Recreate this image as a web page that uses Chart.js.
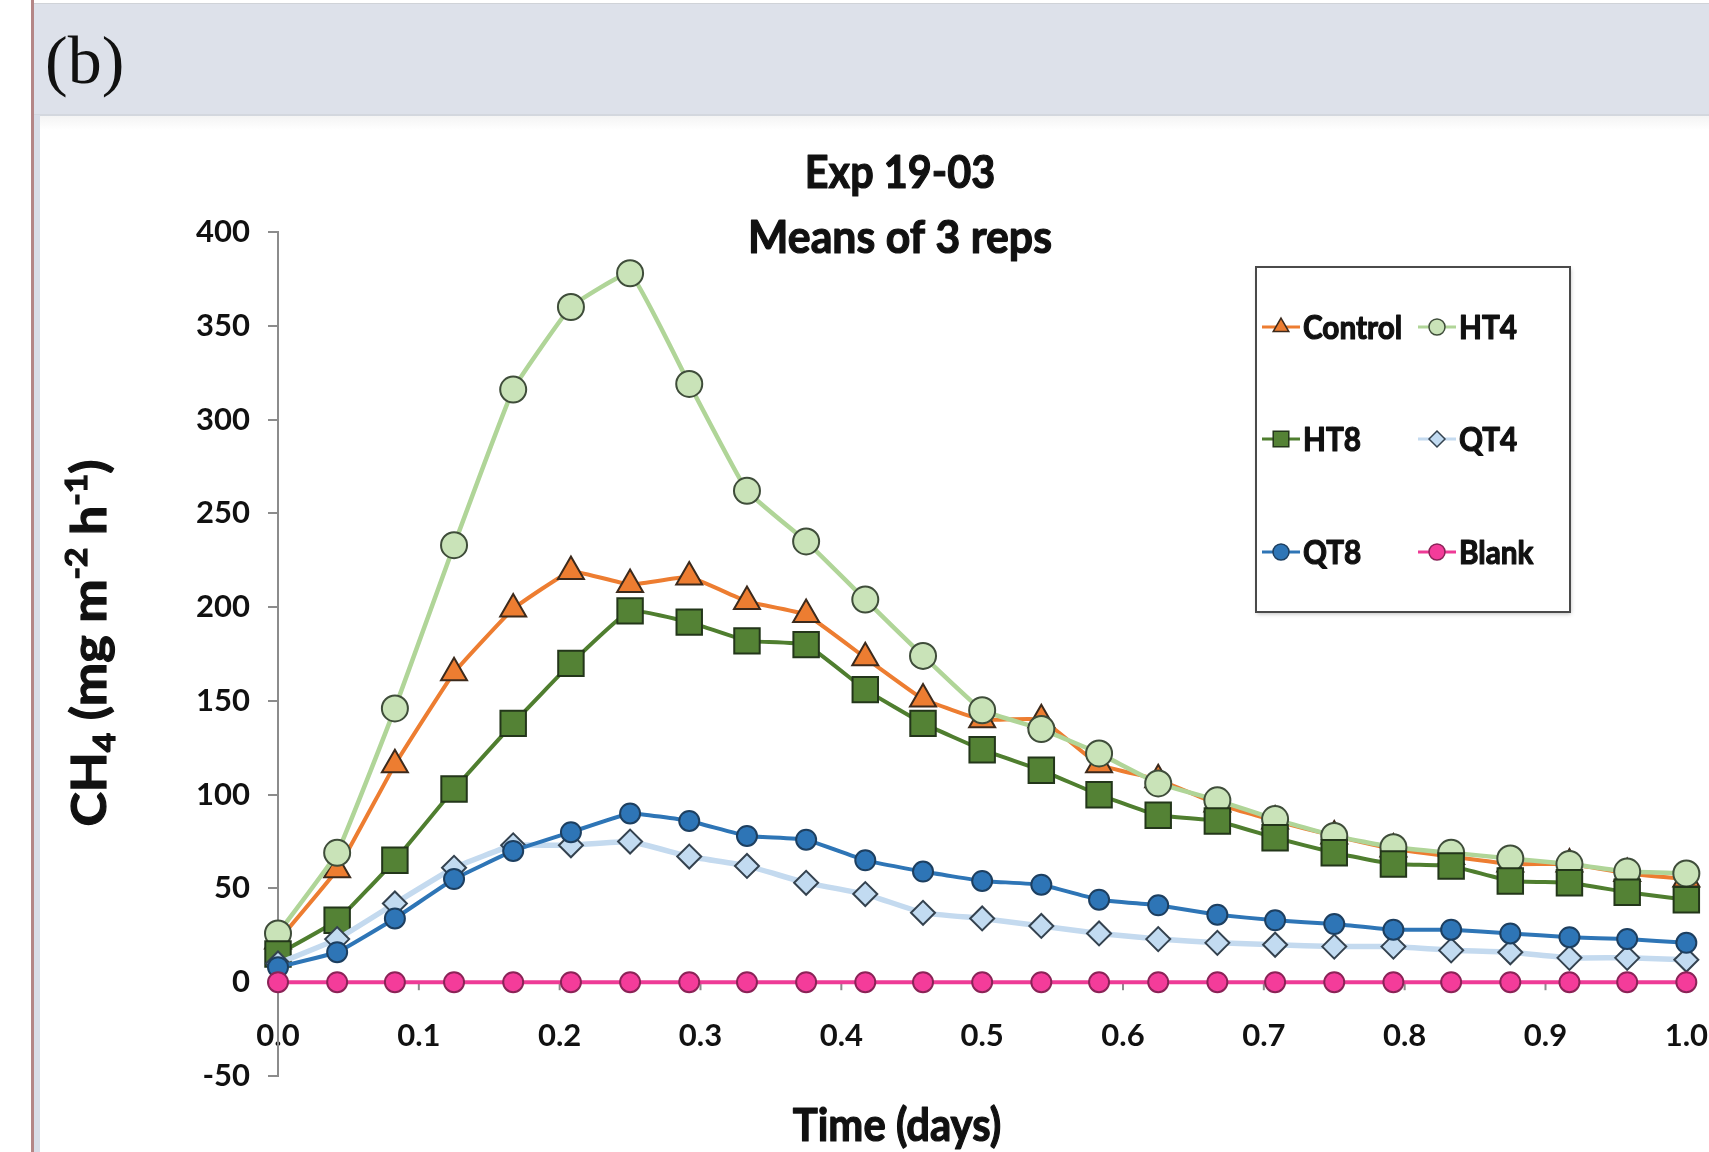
<!DOCTYPE html>
<html>
<head>
<meta charset="utf-8">
<title>Exp 19-03 - Means of 3 reps</title>
<script src="https://cdn.jsdelivr.net/npm/chart.js@4.4.1/dist/chart.umd.min.js"></script>
<style>
    html, body { margin: 0; padding: 0; background: #ffffff; overflow: hidden; }
    #page { position: relative; width: 1709px; height: 1152px; }
    #leftRule { position: absolute; left: 31px; top: 0; width: 3px; height: 1152px; background: #b48686; }
    #leftStrip { position: absolute; left: 34px; top: 115px; width: 6px; height: 1037px; background: #d8dde7; }
    #band {
        position: absolute; left: 34px; top: 3px; width: 1675px; height: 110px;
        background: #dde1ea; border-top: 1px solid #d0d3d8; border-bottom: 2px solid #d3d7de;
    }
    #panelLabel {
        position: absolute; left: 11px; top: 22px; line-height: 1;
        font-family: 'Liberation Serif', 'Times New Roman', serif; font-size: 68px; color: #111;
    }
    #chartWrap {
        position: absolute; left: 40px; top: 116px; width: 1669px; height: 1036px;
        background: linear-gradient(#f4f4f4 0px, #ffffff 14px);
    }
    canvas { position: absolute; left: 0; top: 1px; }
</style>
</head>
<body>
<div id="page">
    <div id="band"><div id="panelLabel">(b)</div></div>
    <div id="leftRule"></div>
    <div id="leftStrip"></div>
    <div id="chartWrap"><canvas id="ch4Chart" width="1669" height="1035"></canvas></div>
</div>
<script>
// CH4 flux, means of 3 reps, sampled every hour over one day
const timeDays = [0.000, 0.042, 0.083, 0.125, 0.167, 0.208, 0.250, 0.292, 0.333, 0.375, 0.417, 0.458, 0.500,
                  0.542, 0.583, 0.625, 0.667, 0.708, 0.750, 0.792, 0.833, 0.875, 0.917, 0.958, 1.000];

const control = [22, 60, 116, 165, 199, 219, 212, 216, 203, 196, 173, 151, 140,
                 140, 116, 108, 95, 86, 78, 71, 67, 63, 63, 58, 55];
const ht4     = [26, 69, 146, 233, 316, 360, 378, 319, 262, 235, 204, 174, 145,
                 135, 122, 106, 97, 87, 78, 72, 69, 66, 63, 59, 58];
const ht8     = [15, 33, 65, 103, 138, 170, 198, 192, 182, 180, 156, 138, 124,
                 113, 100, 89, 86, 77, 69, 63, 62, 54, 53, 48, 44];
const qt4     = [10, 23, 42, 61, 73, 73, 75, 67, 62, 53, 47, 37, 34,
                 30, 26, 23, 21, 20, 19, 19, 17, 16, 13, 13, 12];
const qt8     = [8, 16, 34, 55, 70, 80, 90, 86, 78, 76, 65, 59, 54,
                 52, 44, 41, 36, 33, 31, 28, 28, 26, 24, 23, 21];
const blank   = [0, 0, 0, 0, 0, 0, 0, 0, 0, 0, 0, 0, 0,
                 0, 0, 0, 0, 0, 0, 0, 0, 0, 0, 0, 0];

const yTicks = { min: -50, max: 400, step: 50 };
const xTicks = { min: 0, max: 1, step: 0.1 };

const FONT = "Lato, 'Open Sans', 'DejaVu Sans Condensed', sans-serif";
const WEIGHT = 'bold';
const INK = '#111111';
const SQUEEZE = 0.93; // Calibri-like narrow look for the hand-drawn texts

// one entry per series: look of line + marker (legend reuses these)
const seriesStyles = [
    { label: 'Control', data: control, line: '#ed7d31', fill: '#ed7d31', edge: '#3c2a1c', lineWidth: 4,   style: 'triangle', r: 15, lr: 9,  order: 6 },
    { label: 'HT4',     data: ht4,     line: '#b0d598', fill: '#c9e3b8', edge: '#3f4d3a', lineWidth: 4.5, style: 'circle',   r: 13, lr: 8,  order: 5 },
    { label: 'HT8',     data: ht8,     line: '#4f7e2f', fill: '#548235', edge: '#23361a', lineWidth: 4,   style: 'rect',     r: 18, lr: 11, order: 4 },
    { label: 'QT4',     data: qt4,     line: '#c4daef', fill: '#c2dbf1', edge: '#34424f', lineWidth: 5.5, style: 'rectRot',  r: 12, lr: 8,  order: 3 },
    { label: 'QT8',     data: qt8,     line: '#2e75b6', fill: '#2e75b6', edge: '#1d3f60', lineWidth: 4,   style: 'circle',   r: 10, lr: 8,  order: 2 },
    { label: 'Blank',   data: blank,   line: '#ee3b96', fill: '#f43c9a', edge: '#8a2357', lineWidth: 4,   style: 'circle',   r: 10, lr: 8,  order: 1 }
];

const datasets = seriesStyles.map(s => ({
    label: s.label,
    data: s.data.map((v, i) => ({ x: timeDays[i], y: v })),
    borderColor: s.line,
    borderWidth: s.lineWidth,
    backgroundColor: s.fill,
    pointStyle: s.style,
    pointRadius: s.r,
    pointBackgroundColor: s.fill,
    pointBorderColor: s.edge,
    pointBorderWidth: 2,
    tension: 0.1,
    order: s.order,
    clip: false
}));

// draw heavy text scaled horizontally, anchored like textAlign
function squeezedText(ctx, text, x, y, align, sx = SQUEEZE) {
    const w = ctx.measureText(text).width * sx;
    const left = align === 'center' ? x - w / 2 : x;
    ctx.save();
    ctx.translate(left, y);
    ctx.scale(sx, 1);
    ctx.textAlign = 'left';
    ctx.strokeStyle = ctx.fillStyle;
    ctx.lineWidth = 1.2;
    ctx.lineJoin = 'round';
    ctx.fillText(text, 0, 0);
    ctx.strokeText(text, 0, 0);
    ctx.restore();
}

// titles, rotated y title with sub/superscripts, boxed two-column legend
const decorPlugin = {
    id: 'decor',
    beforeDatasetsDraw(chart) {
        // small tick marks hanging below the zero line
        const { ctx, scales: { x, y } } = chart;
        const y0 = y.getPixelForValue(0);
        ctx.save();
        ctx.strokeStyle = '#8c8c8c';
        ctx.lineWidth = 2;
        for (let v = xTicks.min; v <= xTicks.max + 1e-9; v += xTicks.step) {
            const px = x.getPixelForValue(v);
            ctx.beginPath();
            ctx.moveTo(px, y0);
            ctx.lineTo(px, y0 + 8);
            ctx.stroke();
        }
        ctx.restore();
    },
    afterDraw(chart) {
        const ctx = chart.ctx;
        ctx.save();
        ctx.fillStyle = INK;
        ctx.textBaseline = 'alphabetic';

        // chart title
        ctx.font = `${WEIGHT} 46px ${FONT}`;
        squeezedText(ctx, 'Exp 19-03', 860, 71, 'center', 0.9);
        squeezedText(ctx, 'Means of 3 reps', 860, 136, 'center');

        // x axis title
        ctx.font = `${WEIGHT} 45px ${FONT}`;
        squeezedText(ctx, 'Time (days)', 857, 1024, 'center');

        // y axis title: CH4 (mg m-2 h-1)
        const stretch = 1.08;
        const parts = [
            { t: 'CH', size: 48, dy: 0 },
            { t: '4', size: 31, dy: 9 },
            { t: ' (mg m', size: 48, dy: 0 },
            { t: '-2', size: 31, dy: -19 },
            { t: ' h', size: 48, dy: 0 },
            { t: '-1', size: 31, dy: -19 },
            { t: ')', size: 48, dy: 0 }
        ];
        let total = 0;
        parts.forEach(p => {
            ctx.font = `${WEIGHT} ${p.size}px ${FONT}`;
            p.w = ctx.measureText(p.t).width;
            total += p.w;
        });
        ctx.translate(66, 526);
        ctx.rotate(-Math.PI / 2);
        ctx.scale(stretch, 1);
        ctx.textAlign = 'left';
        ctx.strokeStyle = INK;
        ctx.lineWidth = 1.2;
        let cx = -total / 2;
        parts.forEach(p => {
            ctx.font = `${WEIGHT} ${p.size}px ${FONT}`;
            ctx.fillText(p.t, cx, p.dy);
            ctx.strokeText(p.t, cx, p.dy);
            cx += p.w;
        });
        ctx.restore();

        drawLegend(ctx);
    }
};

function drawLegend(ctx) {
    const box = { x: 1216, y: 150, w: 314, h: 345 };
    const cols = [1241, 1397];
    const rows = [210, 322, 435];

    ctx.save();
    ctx.shadowColor = 'rgba(0,0,0,0.25)';
    ctx.shadowBlur = 4;
    ctx.shadowOffsetX = 1;
    ctx.shadowOffsetY = 2;
    ctx.fillStyle = '#ffffff';
    ctx.fillRect(box.x, box.y, box.w, box.h);
    ctx.shadowColor = 'transparent';
    ctx.strokeStyle = '#4a4a4a';
    ctx.lineWidth = 2;
    ctx.strokeRect(box.x, box.y, box.w, box.h);

    seriesStyles.forEach((s, i) => {
        const mx = cols[i % 2];
        const my = rows[Math.floor(i / 2)];
        ctx.strokeStyle = s.line;
        ctx.lineWidth = 3;
        ctx.beginPath();
        ctx.moveTo(mx - 19, my);
        ctx.lineTo(mx + 19, my);
        ctx.stroke();

        ctx.fillStyle = s.fill;
        ctx.strokeStyle = s.edge;
        ctx.lineWidth = 1.5;
        Chart.helpers.drawPoint(ctx, { pointStyle: s.style, radius: s.lr, rotation: 0, borderWidth: 1.5 }, mx, my);

        ctx.fillStyle = INK;
        ctx.font = `${WEIGHT} 33px ${FONT}`;
        ctx.textBaseline = 'middle';
        squeezedText(ctx, s.label, mx + 22, my + 1, 'left', 0.9);
    });
    ctx.restore();
}

function createCh4Chart() {
    const ctx = document.getElementById('ch4Chart');
    return new Chart(ctx, {
        type: 'line',
        data: { datasets },
        options: {
            responsive: false,
            animation: false,
            layout: { padding: { left: 138, top: 115, right: 22, bottom: 76 } },
            plugins: {
                legend: { display: false },
                title: { display: false },
                tooltip: { enabled: false }
            },
            scales: {
                x: {
                    type: 'linear',
                    position: { y: -18 },
                    min: xTicks.min,
                    max: xTicks.max,
                    grid: { display: false, drawTicks: false },
                    border: { display: false },
                    ticks: {
                        stepSize: xTicks.step,
                        padding: 1,
                        color: INK,
                        font: { family: FONT, size: 31, weight: WEIGHT },
                        callback: v => Number(v).toFixed(1)
                    }
                },
                y: {
                    position: 'left',
                    min: yTicks.min,
                    max: yTicks.max,
                    afterFit(scale) { scale.width = 100; },
                    border: { color: '#8c8c8c', width: 2 },
                    grid: {
                        color: c => (c.tick && c.tick.value === 0 ? '#8c8c8c' : 'transparent'),
                        tickColor: '#8c8c8c',
                        tickLength: 10,
                        lineWidth: 2
                    },
                    ticks: {
                        stepSize: yTicks.step,
                        padding: 18,
                        color: INK,
                        font: { family: FONT, size: 31, weight: WEIGHT }
                    }
                }
            }
        },
        plugins: [decorPlugin]
    });
}

window.ch4ChartInstance = createCh4Chart();
</script>
</body>
</html>
